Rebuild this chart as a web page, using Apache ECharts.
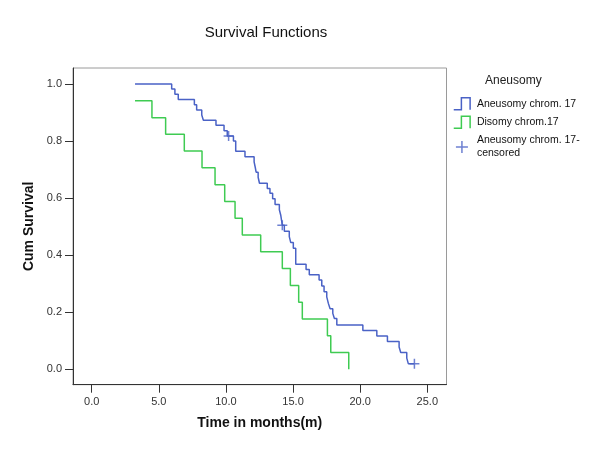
<!DOCTYPE html>
<html><head><meta charset="utf-8">
<script src="https://cdn.jsdelivr.net/npm/echarts@6/dist/echarts.min.js"></script>
<style>html,body{margin:0;padding:0;background:#fff}#c{width:600px;height:456px}</style>
</head><body><div id="c"></div><script>
// Aneusomy chrom. 17 : Kaplan-Meier steps (time in months, cumulative survival after the step)
const aneuTime = [3.23, 5.96, 6.20, 6.45, 7.65, 7.82, 8.20, 8.32, 9.26, 9.86, 10.10, 10.56, 10.73, 11.42,
  12.10, 12.18, 12.25, 12.40, 12.50, 13.08, 13.28, 13.48, 13.66, 13.98, 14.08, 14.20, 14.35, 14.72, 14.83,
  15.02, 15.20, 15.97, 16.21, 16.94, 17.14, 17.31, 17.51, 17.63, 17.76, 17.96, 18.08, 18.26,
  20.20, 21.24, 22.03, 22.90, 23.02, 23.47, 23.59, 24.04];
const aneuSurv = [1.000, 0.982, 0.964, 0.946, 0.927, 0.909, 0.891, 0.873, 0.855, 0.836, 0.818, 0.800, 0.764, 0.745,
  0.727, 0.709, 0.691, 0.673, 0.652, 0.634, 0.617, 0.598, 0.578, 0.559, 0.541, 0.505, 0.484, 0.465, 0.444,
  0.424, 0.368, 0.350, 0.331, 0.313, 0.292, 0.272, 0.254, 0.231, 0.212, 0.196, 0.178, 0.155,
  0.136, 0.117, 0.097, 0.078, 0.059, 0.039, 0.019, 0.019];
// Disomy chrom.17
const disoTime = [3.23, 4.49, 5.51, 6.90, 8.22, 9.19, 9.91, 10.68, 11.22, 12.59, 14.20, 14.80, 15.42, 15.69, 17.56, 17.81, 19.15];
const disoSurv = [0.941, 0.882, 0.824, 0.765, 0.706, 0.647, 0.588, 0.529, 0.471, 0.412, 0.353, 0.294, 0.235, 0.176, 0.118, 0.059, 0.000];
// Censored observations (Aneusomy chrom. 17)
const censTime = [10.20, 14.20, 24.04];
const censSurv = [0.818, 0.505, 0.019];
// Axis ticks
const xTicks = [0, 5, 10, 15, 20, 25];
const yTicks = [0, 0.2, 0.4, 0.6, 0.8, 1.0];
const names = ['Aneusomy chrom. 17', 'Disomy chrom.17', 'Aneusomy chrom. 17-\ncensored'];

const BLUE = '#4a62c6';
const GREEN = '#3fcb52';
const FONT = '"Liberation Sans", Arial, sans-serif';

const zip = (a, b) => a.map((v, i) => [v, b[i]]);
const chart = echarts.init(document.getElementById('c'), null, {renderer: 'canvas'});
chart.setOption({
  animation: false,
  backgroundColor: '#fff',
  textStyle: {fontFamily: FONT},
  title: {
    text: 'Survival Functions', left: 261, top: 20, textAlign: 'center',
    textStyle: {fontSize: 15, fontWeight: 'normal', color: '#111', fontFamily: FONT}
  },
  graphic: [{
    type: 'text', left: 485, top: 75,
    style: {text: 'Aneusomy', fontSize: 12, fill: '#222', fontFamily: FONT}
  }],
  legend: {
    orient: 'vertical', left: 448, top: 92, itemWidth: 20, itemHeight: 12, itemGap: 5,
    textStyle: {fontSize: 10.5, color: '#111', fontFamily: FONT, lineHeight: 13},
    selectedMode: false,
    data: [
      {name: names[0], icon: 'path://M0,12L7,12L7,1L15,1L15,12', itemStyle: {color: 'rgba(0,0,0,0)', borderColor: BLUE, borderWidth: 1.5}},
      {name: names[1], icon: 'path://M0,12L7,12L7,1L15,1L15,12', itemStyle: {color: 'rgba(0,0,0,0)', borderColor: GREEN, borderWidth: 1.5}},
      {name: names[2], icon: 'path://M0,6L12,6M6,0L6,12', itemStyle: {color: 'rgba(0,0,0,0)', borderColor: BLUE, borderWidth: 1.5}}
    ]
  },
  grid: {left: 73, right: 153.5, top: 68, bottom: 71.3, show: true, borderColor: '#9a9a9a', borderWidth: 1, backgroundColor: '#fff'},
  xAxis: {
    type: 'value', min: -1.39, max: 26.43,
    name: 'Time in months(m)', nameLocation: 'middle', nameGap: 31,
    nameTextStyle: {fontSize: 14, fontWeight: 'bold', color: '#111', fontFamily: FONT},
    axisLine: {show: true, onZero: false, lineStyle: {color: '#333', width: 1}},
    axisTick: {show: true, length: 8, customValues: xTicks, lineStyle: {color: '#333'}},
    axisLabel: {customValues: xTicks, margin: 12, fontSize: 11, color: '#333', formatter: v => v.toFixed(1)},
    splitLine: {show: false}
  },
  yAxis: {
    type: 'value', min: -0.054, max: 1.056,
    name: 'Cum Survival', nameLocation: 'middle', nameGap: 34, nameRotate: 90,
    nameTextStyle: {fontSize: 14, fontWeight: 'bold', color: '#111', fontFamily: FONT},
    axisLine: {show: true, onZero: false, lineStyle: {color: '#333', width: 1}},
    axisTick: {show: true, length: 8, customValues: yTicks, lineStyle: {color: '#333'}},
    axisLabel: {customValues: yTicks, margin: 11, fontSize: 11, color: '#333', formatter: v => v.toFixed(1)},
    splitLine: {show: false}
  },
  series: [
    {name: names[0], type: 'line', step: 'end', data: zip(aneuTime, aneuSurv), showSymbol: false,
      lineStyle: {color: BLUE, width: 1.5}, itemStyle: {color: BLUE}},
    {name: names[1], type: 'line', step: 'end', data: zip(disoTime, disoSurv), showSymbol: false,
      lineStyle: {color: GREEN, width: 1.5}, itemStyle: {color: GREEN}},
    {name: names[2], type: 'scatter', data: zip(censTime, censSurv),
      symbol: 'path://M0,6L12,6M6,0L6,12', symbolSize: 10,
      itemStyle: {color: 'rgba(0,0,0,0)', borderColor: BLUE, borderWidth: 1.5}}
  ]
});
</script></body></html>
